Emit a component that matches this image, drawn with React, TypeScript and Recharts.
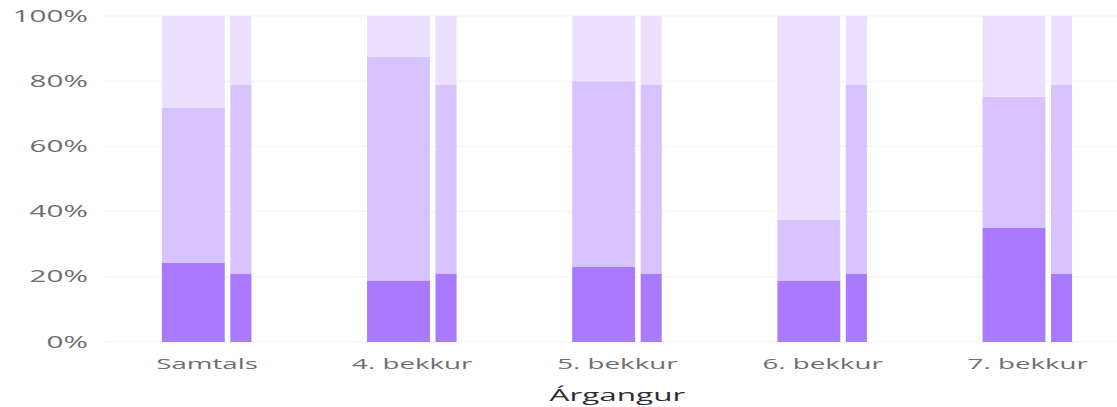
import { BarChart, Bar, XAxis, YAxis, CartesianGrid } from 'recharts';

const categories = ['Samtals', '4. bekkur', '5. bekkur', '6. bekkur', '7. bekkur'];

// wide bars (skólinn)
const lowSchool = [24.2, 18.7, 23, 18.7, 35];
const midSchool = [47.6, 68.7, 57, 18.7, 40.2];
const highSchool = [28.2, 12.6, 20, 62.6, 24.8];

// narrow bars (samanburður)
const lowRef = [21, 21, 21, 21, 21];
const midRef = [57.8, 57.8, 57.8, 57.8, 57.8];
const highRef = [21.2, 21.2, 21.2, 21.2, 21.2];

const yTicks = [0, 20, 40, 60, 80, 100];

const data = categories.map((name, i) => ({
  name,
  lowSchool: lowSchool[i],
  midSchool: midSchool[i],
  highSchool: highSchool[i],
  lowRef: lowRef[i],
  midRef: midRef[i],
  highRef: highRef[i],
}));

const DARK = '#a97aff';
const MID = '#d6c3ff';
const LIGHT = '#ebe0ff';

// the reference is stretched horizontally, so draw narrow and scale it
const SX = 1.85;

export default function App() {
  return (
    <div style={{ position: 'fixed', left: 0, top: 0, width: 1117, height: 407, overflow: 'hidden', background: '#fff' }}>
      <div style={{ transform: `scaleX(${SX})`, transformOrigin: '0 0', width: 615 }}>
        <BarChart
          width={615}
          height={407}
          data={data}
          margin={{ top: 16, right: 4, bottom: 0, left: 0 }}
          barGap={3}
          style={{ fontFamily: '"Open Sans", sans-serif' }}
        >
          <CartesianGrid vertical={false} stroke="#f2efff" />
          <XAxis
            dataKey="name"
            height={65}
            axisLine={false}
            tickLine={false}
            tickSize={0}
            tickMargin={16}
            tick={{ fill: '#6e6e6e', fontSize: 15 }}
            label={{ value: 'Árgangur', position: 'insideBottom', offset: 6, fill: '#2e2e2e', fontSize: 17 }}
          />
          <YAxis
            width={56.5}
            domain={[0, 100]}
            ticks={yTicks}
            tickFormatter={(v) => `${v}%`}
            axisLine={false}
            tickLine={false}
            tickSize={0}
            tickMargin={9}
            tick={{ fill: '#6e6e6e', fontSize: 16 }}
          />
          <Bar dataKey="lowSchool" stackId="a" fill={DARK} barSize={34} isAnimationActive={false} />
          <Bar dataKey="midSchool" stackId="a" fill={MID} barSize={34} isAnimationActive={false} />
          <Bar dataKey="highSchool" stackId="a" fill={LIGHT} barSize={34} isAnimationActive={false} />
          <Bar dataKey="lowRef" stackId="b" fill={DARK} barSize={11.4} isAnimationActive={false} />
          <Bar dataKey="midRef" stackId="b" fill={MID} barSize={11.4} isAnimationActive={false} />
          <Bar dataKey="highRef" stackId="b" fill={LIGHT} barSize={11.4} isAnimationActive={false} />
        </BarChart>
      </div>
    </div>
  );
}
